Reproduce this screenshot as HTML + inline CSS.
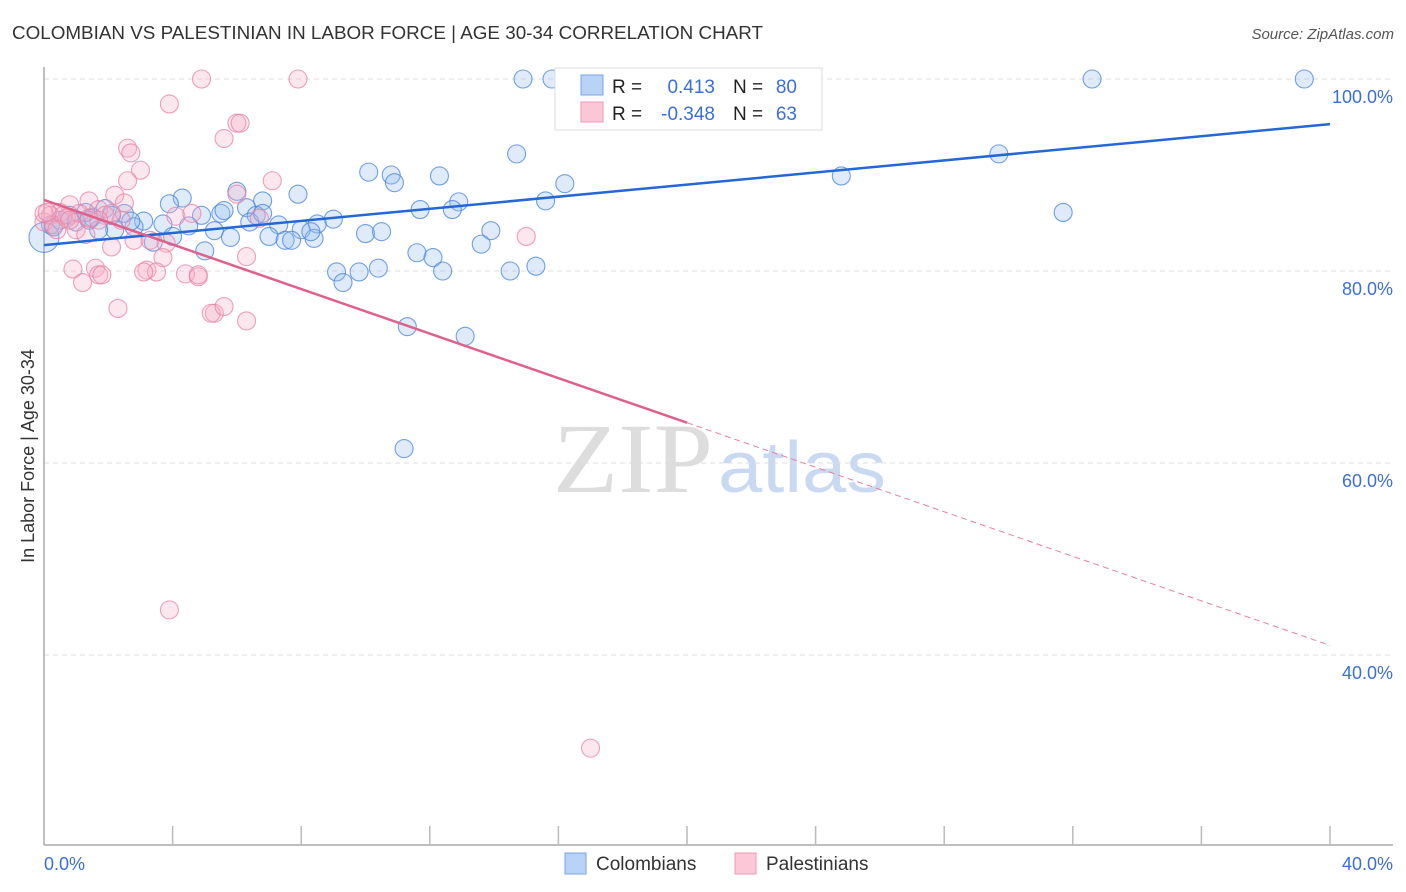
<!DOCTYPE html>
<html><head><meta charset="utf-8"><style>
body{margin:0;background:#fff;font-family:"Liberation Sans",sans-serif;}
svg{display:block}
</style></head><body>
<svg id="chart" width="1406" height="892" viewBox="0 0 1406 892" xmlns="http://www.w3.org/2000/svg">
<text x="12" y="39" font-size="18" fill="#333" textLength="751" lengthAdjust="spacingAndGlyphs">COLOMBIAN VS PALESTINIAN IN LABOR FORCE | AGE 30-34 CORRELATION CHART</text>
<text x="1394" y="39" font-size="15" fill="#555" text-anchor="end" font-style="italic">Source: ZipAtlas.com</text>
<g>
<text x="553" y="492" font-size="100" fill="#ddd" font-family="Liberation Serif, serif" textLength="160" lengthAdjust="spacingAndGlyphs">ZIP</text>
<text x="718" y="492" font-size="72" fill="#c9d9f2" textLength="168" lengthAdjust="spacingAndGlyphs">atlas</text>
</g>
<g id="grid"></g>
<g id="axes"></g>
<g id="pts"></g>
<g id="trend"></g>
<text transform="translate(34,456) rotate(-90)" font-size="18" fill="#333" text-anchor="middle">In Labor Force | Age 30-34</text>
<g>
<rect x="555" y="68" width="267" height="62" fill="#fff" stroke="#ddd"/>
<rect x="581" y="75" width="22" height="20" fill="#b8d3f5" stroke="#7aa6e6"/>
<rect x="581" y="102" width="22" height="20" fill="#fcc7d7" stroke="#ef9ab5"/>
<text x="612" y="93" font-size="19" fill="#222">R =</text>
<text x="715" y="93" font-size="19" fill="#3b6fd6" text-anchor="end">0.413</text>
<text x="733" y="93" font-size="19" fill="#222">N =</text>
<text x="797" y="93" font-size="19" fill="#3b6fd6" text-anchor="end">80</text>
<text x="612" y="120" font-size="19" fill="#222">R =</text>
<text x="715" y="120" font-size="19" fill="#3b6fd6" text-anchor="end">-0.348</text>
<text x="733" y="120" font-size="19" fill="#222">N =</text>
<text x="797" y="120" font-size="19" fill="#3b6fd6" text-anchor="end">63</text>
</g>
<g>
<rect x="565" y="853" width="21" height="21" fill="#b8d3f5" stroke="#7aa6e6"/>
<text x="596" y="870" font-size="19" fill="#333">Colombians</text>
<rect x="735" y="853" width="21" height="21" fill="#fcc7d7" stroke="#ef9ab5"/>
<text x="766" y="870" font-size="19" fill="#333">Palestinians</text>
</g>
</svg>
<script>
const blueX=[14.9,15.8,17.8,22.6,32.6,39.2,14.7,29.7,10.1,10.8,10.9,12.3,24.8,16.2,15.6,12.9,4.3,6.0,7.9,6.8,3.9,6.3,11.7,12.7,31.7,4.9,5.5,5.6,6.6,9.0,8.5,3.1,3.7,1.9,2.5,1.5,0.8,0.5,0.2,7.3,8.0,4.5,5.3,5.8,7.0,7.5,8.4,8.3,10.0,10.5,13.9,13.6,2.8,2.2,1.7,3.4,5.0,11.6,12.1,9.1,9.8,10.4,12.4,14.5,15.3,9.3,11.3,13.1,11.2,0.0,0.3,1.0,1.3,2.1,2.7,4.0,7.7,6.4,6.8,1.4];
const blueY=[100,100,100,100,100,100,92.2,92.2,90.3,90.0,89.2,89.9,89.9,89.1,87.3,87.2,87.6,88.3,88.0,87.3,87.0,86.6,86.4,86.4,86.1,85.8,86.0,86.3,85.8,85.4,84.9,85.2,84.9,86.5,86.0,85.6,85.8,85.3,84.8,84.8,84.3,84.7,84.2,83.5,83.6,83.2,83.4,84.1,83.9,84.1,84.2,82.8,84.6,84.3,84.3,83.0,82.1,81.9,81.4,79.9,79.9,80.3,80.0,80.0,80.5,78.8,74.2,73.2,61.5,83.5,84.6,85.1,86.1,85.8,85.2,83.6,83.2,85.1,86.0,85.3];
const pinkX=[4.9,7.9,3.9,6.0,6.1,5.6,2.6,2.7,3.0,7.1,6.0,2.6,2.2,1.4,0.8,0.5,0.2,0.0,0.3,0.7,1.1,1.7,2.5,1.9,2.4,4.1,4.6,6.7,1.0,1.3,2.8,3.3,3.8,2.1,3.7,6.3,0.9,1.6,1.7,1.8,1.2,3.2,3.5,4.4,4.8,4.8,3.1,2.3,5.3,5.2,5.6,6.3,15.0,3.9,17.0,0.0,0.6,0.1,1.4,2.1,0.8,0.4,1.7];
const pinkY=[100,100,97.4,95.4,95.4,93.8,92.8,92.3,90.5,89.4,88.0,89.4,87.9,87.3,86.9,86.1,85.8,85.1,84.8,85.5,86.0,86.4,87.1,85.8,85.3,85.7,86.0,85.5,84.3,83.8,83.2,83.2,82.9,82.5,81.4,81.5,80.2,80.3,79.6,79.6,78.8,80.1,79.9,79.7,79.4,79.6,79.9,76.1,75.6,75.6,76.3,74.8,83.6,44.7,30.3,86.0,85.8,86.1,85.5,86.0,85.3,84.3,85.3];
const blueTrend=[82.7,95.3];
const pinkTrend=[87.4,41.0];
const yTicks=[100,80,60,40];
const yTickLabels=["100.0%","80.0%","60.0%","40.0%"];
const xTicks=[0,4,8,12,16,20,24,28,32,36,40];
const NS='http://www.w3.org/2000/svg';
const X=v=>44+v*32.15;
const Y=v=>79+(100-v)*9.6;
function mk(t,a,p){const e=document.createElementNS(NS,t);for(const k in a)e.setAttribute(k,a[k]);document.getElementById(p).appendChild(e);return e;}
yTicks.forEach((t,i)=>{
 const l=mk('line',{x1:44,x2:1393,y1:Y(t),y2:Y(t),stroke:'#ddd','stroke-dasharray':'5,4'},'grid');
 
 
 const tx=mk('text',{x:1393,y:Y(t)+24,'font-size':18,fill:'#3b6fd6','text-anchor':'end'},'grid');
 tx.textContent=yTickLabels[i];
 
 
});
let a=mk('line',{x1:44,x2:44,y1:67,y2:845,stroke:'#aaa','stroke-width':1.5},'axes');


a=mk('line',{x1:44,x2:1393,y1:845,y2:845,stroke:'#aaa','stroke-width':1.5},'axes');


xTicks.slice(1).forEach(t=>{
 const l=mk('line',{x1:X(t),x2:X(t),y1:826,y2:845,stroke:'#bbb','stroke-width':1.5},'axes');
 
 
});
let xl=mk('text',{x:44,y:870,'font-size':18,fill:'#3b6fd6'},'axes');xl.textContent='0.0%';


xl=mk('text',{x:1393,y:870,'font-size':18,fill:'#3b6fd6','text-anchor':'end'},'axes');xl.textContent='40.0%';


blueX.forEach((v,i)=>{
 const c=mk('circle',{cx:X(v),cy:Y(blueY[i]),r:(i===69?15:9),fill:'rgba(150,190,240,0.3)',stroke:'rgba(70,130,220,0.75)','stroke-width':1.1},'pts');
 
 
});
pinkX.forEach((v,i)=>{
 const c=mk('circle',{cx:X(v),cy:Y(pinkY[i]),r:9,fill:'rgba(248,175,200,0.3)',stroke:'rgba(232,128,165,0.75)','stroke-width':1.1},'pts');
 
 
});
let t=mk('line',{x1:X(0),y1:Y(blueTrend[0]),x2:X(40),y2:Y(blueTrend[1]),stroke:'#2368d6','stroke-width':2.5},'trend');


const pm=pinkTrend[0]+(pinkTrend[1]-pinkTrend[0])*0.5;
t=mk('line',{x1:X(0),y1:Y(pinkTrend[0]),x2:X(20),y2:Y(pm),stroke:'#e0608a','stroke-width':2.5},'trend');


t=mk('line',{x1:X(20),y1:Y(pm),x2:X(40),y2:Y(pinkTrend[1]),stroke:'#e8809f','stroke-width':1,'stroke-dasharray':'6,4'},'trend');


</script>
</body></html>
